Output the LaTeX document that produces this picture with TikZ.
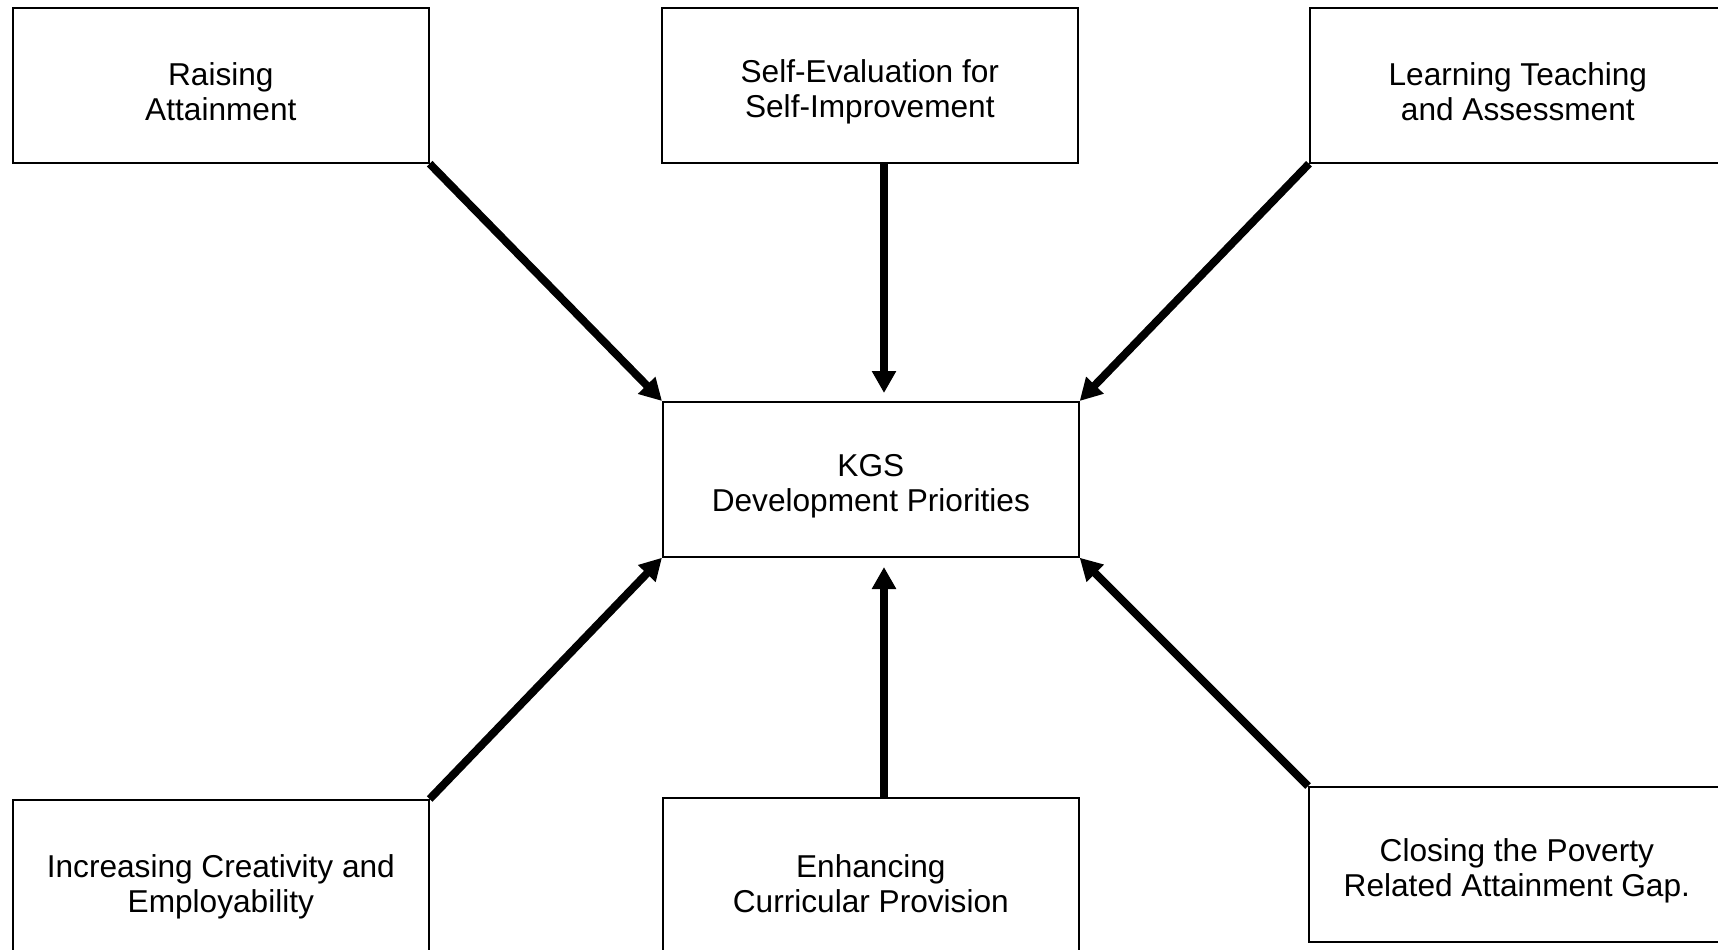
\documentclass[tikz,border=0pt]{standalone}
\usepackage{fontspec}
\setmainfont{Liberation Sans}
\usepackage{tikz}
\usetikzlibrary{arrows.meta}
\newcommand{\boxstrut}{\rule{0pt}{20pt}}

\begin{document}
\begin{tikzpicture}[x=0.02cm, y=-0.02cm,
    box/.style={draw, line width=1pt, rectangle, anchor=north west, minimum width=8.32cm, minimum height=3.1cm, align=center, inner sep=0pt, font=\fontsize{18}{20}\selectfont},
    arr/.style={line width=4.5pt, -{Triangle[length=0.44cm, width=0.46cm]}}]
    \useasboundingbox (0,0) rectangle (1718,950);
    \clip (0,0) rectangle (1718,950);
    \node[box] (raise) at (12,7) {\boxstrut Raising\\Attainment};
    \node[box] (selfeval) at (661,7) {\boxstrut Self-Evaluation for\\Self-Improvement};
    \node[box] (lta) at (1309,7) {\boxstrut Learning Teaching\\and Assessment};
    \node[box] (kgs) at (662,401) {\boxstrut KGS\\Development Priorities};
    \node[box, minimum height=3.22cm] (creat) at (12,799) {\boxstrut Increasing Creativity and\\Employability};
    \node[box, minimum height=3.2cm] (curric) at (662,797) {\boxstrut Enhancing\\Curricular Provision};
    \node[box] (poverty) at (1308,786) {\boxstrut Closing the Poverty\\Related Attainment Gap.};
    \coordinate (topend) at (884,393);
    \coordinate (botend) at (884,567);
    \draw[arr] (raise.south east) -- (kgs.north west);
    \draw[arr] (selfeval.south -| topend) -- (topend);
    \draw[arr] (lta.south west) -- (kgs.north east);
    \draw[arr] (creat.north east) -- (kgs.south west);
    \draw[arr] (curric.north -| botend) -- (botend);
    \draw[arr] (poverty.north west) -- (kgs.south east);
\end{tikzpicture}
\end{document}
